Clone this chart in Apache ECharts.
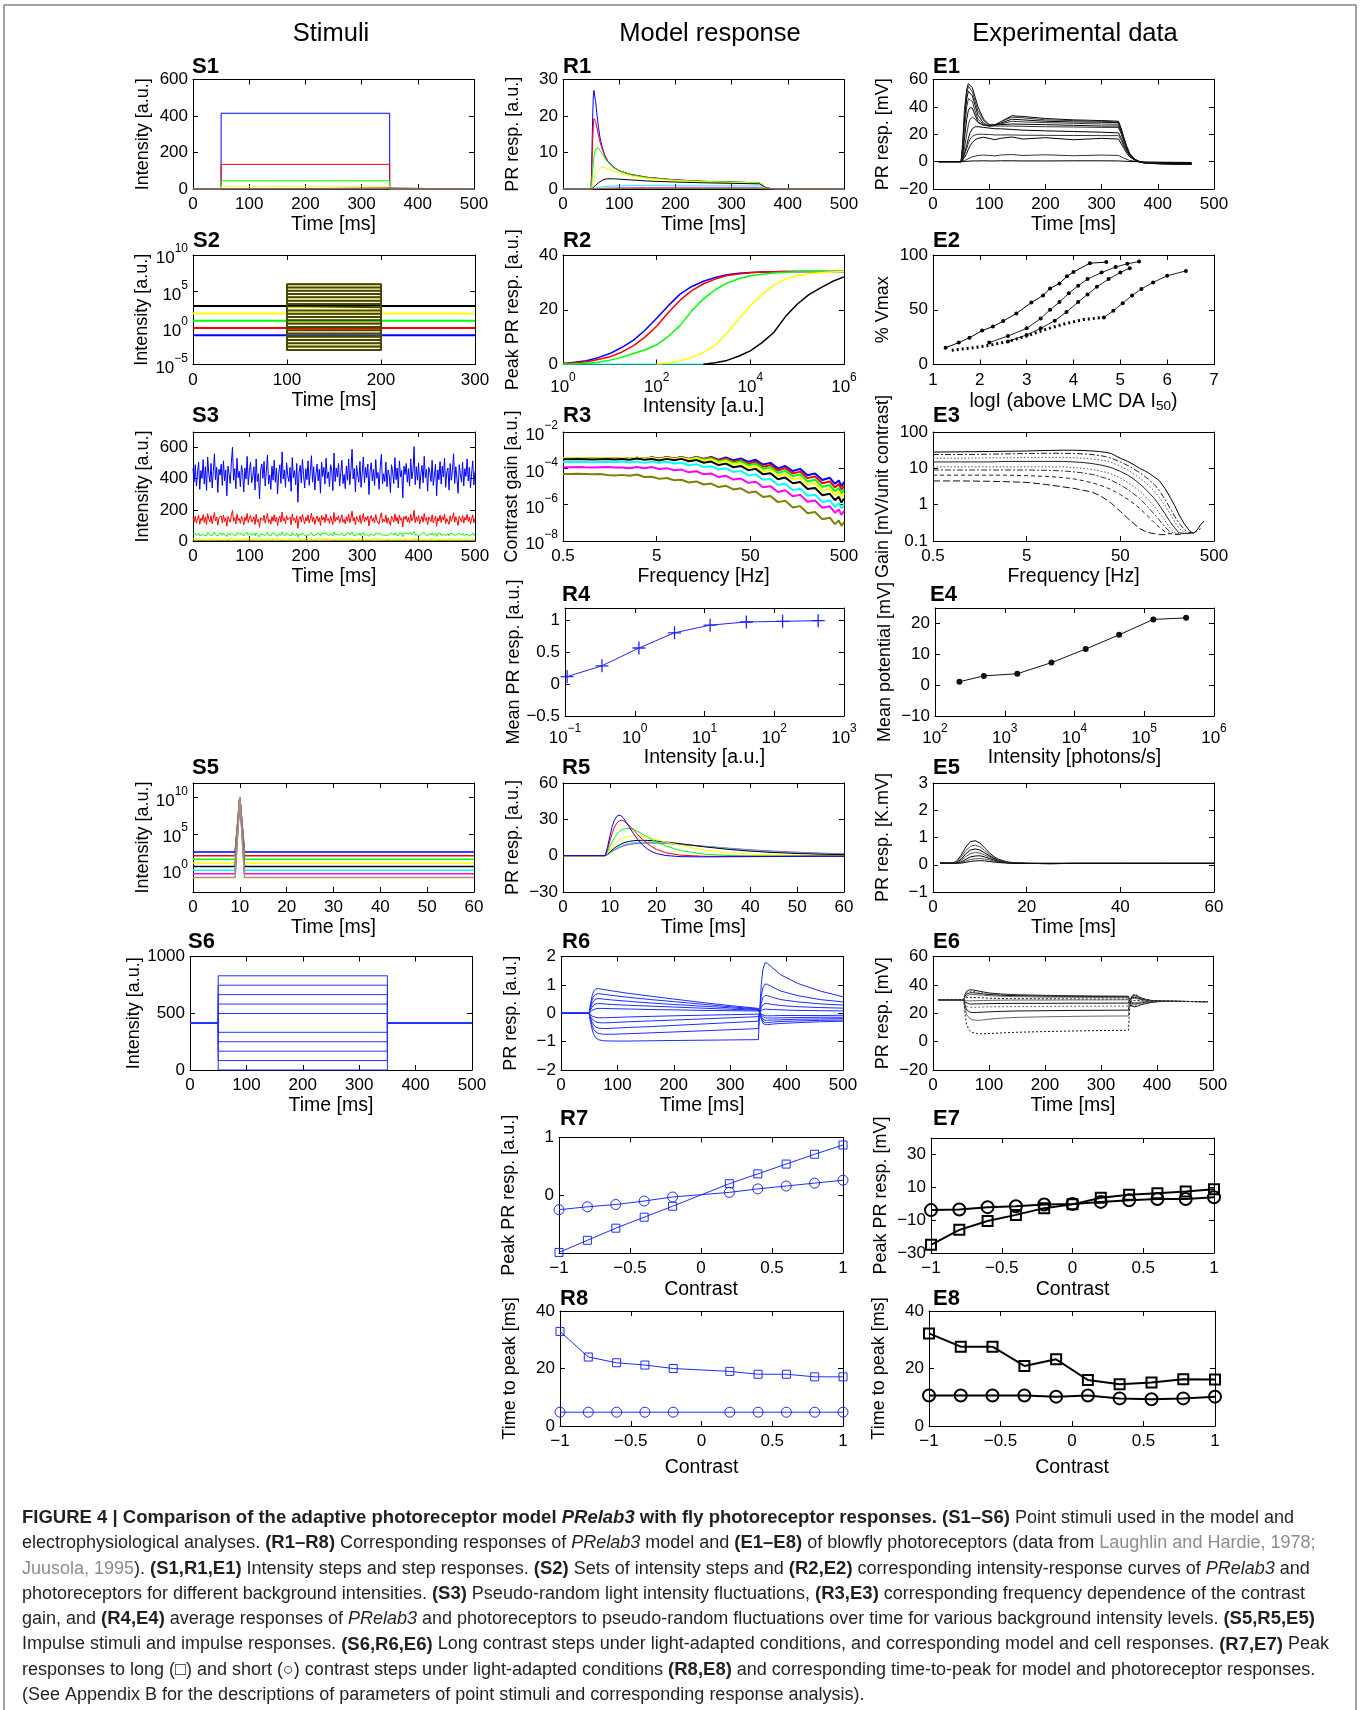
<!DOCTYPE html>
<html>
<head>
<meta charset="utf-8">
<script src="https://cdn.jsdelivr.net/npm/echarts@6/dist/echarts.min.js"></script>
<style>
  html, body { margin: 0; padding: 0; background: #fff; }
  #fig { width: 1360px; height: 1710px; }
</style>
</head>
<body>
<div id="fig"></div>
<script>
// ---------------- data ----------------
const MCOL = ['#0000ff', '#ff0000', '#00ff00', '#ffff00', '#000000', '#00ffff', '#ff00ff', '#808000'];
const KHAKI = '#a8966a';

// S1: intensity steps (50-350 ms)
const s1Time = [0, 50, 50, 350, 350, 500];
const s1Pulse = [0, 0, 1, 1, 0, 0];
const s1Levels = [415, 135, 45, 15, 5, 1.5, 0.5, 0.15];

// S2: backgrounds and test steps (log10 intensity)
const s2BgLog = [-1, 0, 1, 2, 3];
const s2StepLog = [-3, -2.55, -2.1, -1.65, -1.2, -0.75, -0.3, 0.15, 0.6, 1.05, 1.5, 1.95, 2.4, 2.85, 3.3, 3.75, 4.2, 4.65, 5.1, 5.55, 6];

// S3: pseudo-random contrast sequence (%), sampled every 2 ms, and mean intensities
const s3Dt = 2;
const s3Means = [415, 135, 42, 14, 4];
const s3Contrast = [
  12, -8, 18, -15, 5, 22, -20, 9, -3, 26, -12, 15, -22, 30, 4, -9, 20, -18, 8, 35, -5, 14, -25, 11, 2,
  19, -14, 24, -7, 10, -30, 16, 3, -11, 21, 45, -6, 12, -19, 28, -2, 8, -16, 17, 6, -24, 13, -4, 31, -13,
  9, 22, -10, 0, 15, -21, 27, -8, 4, -35, 11, 19, -3, 23, -15, 7, 33, -12, 2, -20, 16, -6, 25, -9, 13,
  -27, 5, 18, -11, 38, -4, 10, -17, 21, 1, -8, 14, -23, 29, -2, 9, -13, 20, -40, 6, 17, -10, 26, 3, -18,
  12, -5, 24, -14, 8, 32, -9, 15, -21, 4, 19, -7, 11, -26, 22, 0, 14, -12, 28, -3, 7, -16, 18, 10, -22,
  36, -8, 13, -1, 20, -15, 6, 25, -11, 3, -19, 16, -6, 27, -13, 9, 42, -4, 12, -24, 17, 2, -9, 23, -17,
  5, 30, -10, 14, -2, 19, -28, 8, 21, -7, 11, -14, 26, -3, 6, -20, 15, 34, -12, 4, -8, 22, -16, 10, 1,
  -25, 18, 7, -11, 29, -5, 13, -18, 24, -1, 9, -33, 16, 3, 20, -9, 12, -15, 27, -4, 8, 46, -13, 15, -6,
  21, -19, 4, 17, -10, 31, -2, 11, -23, 14, 6, -8, 25, -14, 2, 19, -30, 10, -5, 23, -12, 16, -1, 28, -17,
  7, 13, -21, 20, -6, 9, 35, -11, 15, -3, -26, 18, 4, -9, 22, -15, 12, 0, 27, -7, 14, -18, 5, 24, -13,
  8
];

// S5: impulse on backgrounds (log10 intensity)
const s5BgLog = [2.5, 2, 1.5, 1, 0.5, 0, -0.5, -1];
const s5PeakLog = 10;
const s5Time = [0, 9, 10, 11, 60];

// S6: contrast steps around a mean intensity
const s6Mean = 415;
const s6Contrast = [1, 0.8, 0.6, 0.4, 0.2, -0.2, -0.4, -0.6, -0.8, -1];

// R1: step responses
const r1Time = [0, 50, 51, 52, 53, 54, 55, 56, 58, 60, 63, 66, 70, 75, 80, 90, 100, 120, 150, 200, 250, 300, 350, 353, 356, 360, 365, 370, 380, 400, 500];
const r1Resp = [
  [0,0,6,14,21,25.5,27,26.5,24,21,17,14,11.3,9,7.6,6,5,4,3.2,2.5,2.1,1.9,1.7,1.3,0.9,0.5,0.25,0.12,0.04,0,0],
  [0,0,4,9,14,17.5,19.3,19.5,18.5,17,14.8,12.8,10.8,8.9,7.5,5.9,5,4,3.2,2.5,2.1,1.9,1.7,1.3,0.9,0.5,0.25,0.12,0.04,0,0],
  [0,0,1.5,3.5,5.5,7.2,8.6,9.8,11,11.5,11.3,10.6,9.5,8.3,7.3,5.8,4.9,3.9,3.1,2.4,2.1,1.9,1.7,1.3,0.9,0.5,0.25,0.12,0.04,0,0],
  [0,0,0.4,0.9,1.5,2.1,2.7,3.2,4.1,4.8,5.5,5.9,6,5.8,5.5,4.9,4.4,3.6,2.9,2.3,2,1.8,1.6,1.25,0.9,0.5,0.25,0.12,0.04,0,0],
  [0,0,0.1,0.2,0.3,0.45,0.6,0.75,1,1.3,1.7,2,2.4,2.7,2.8,2.8,2.7,2.5,2.2,1.9,1.7,1.55,1.4,1.1,0.8,0.45,0.22,0.1,0.03,0,0],
  [0,0,0,0.02,0.05,0.08,0.12,0.15,0.22,0.3,0.4,0.5,0.6,0.7,0.77,0.85,0.88,0.9,0.9,0.88,0.86,0.85,0.83,0.7,0.5,0.3,0.15,0.07,0.02,0,0],
  [0,0,0,0,0.01,0.02,0.03,0.04,0.06,0.08,0.11,0.14,0.18,0.22,0.25,0.29,0.31,0.33,0.34,0.34,0.33,0.33,0.32,0.27,0.2,0.12,0.06,0.03,0.01,0,0],
  [0,0,0,0,0,0.01,0.01,0.01,0.02,0.03,0.04,0.05,0.06,0.07,0.08,0.1,0.11,0.12,0.12,0.12,0.12,0.11,0.11,0.09,0.07,0.04,0.02,0.01,0,0,0]
];

// R2: peak response vs log10 intensity
const r2LogI = [0, 0.25, 0.5, 0.75, 1, 1.25, 1.5, 1.75, 2, 2.25, 2.5, 2.75, 3, 3.25, 3.5, 3.75, 4, 4.25, 4.5, 4.75, 5, 5.25, 5.5, 5.75, 6];
const r2Blue = [0.4,0.8,1.4,2.5,4,6.2,8.8,12.5,16.9,21.5,25.7,28.5,30.4,31.8,32.8,33.3,33.6,33.8,33.9,34,34,34,34,34,34];
const r2Red = [0.3,0.6,1.0,1.8,2.8,4.5,6.8,10,14,19,23.5,27,29.5,31.2,32.5,33.1,33.5,33.8,33.9,34,34,34,34,34,34];
const r2Green = [0.2,0.3,0.5,0.8,1.6,2.6,4,5.3,7.2,10.3,14.2,19.6,24,27.3,29.7,31.3,32.4,33,33.4,33.7,33.9,34,34,34,34];
const r2Yellow = [0.2,0.6,1.3,2.6,4.4,7,11.5,16.5,21.5,25.5,29,31.2,32.4,33.1,33.5,33.8,34];      // from 10^2
const r2Black = [0.1,0.6,1.5,3,5,8,11.7,17.5,22,25.5,28,30.3,32];                                   // from 10^3
const r2Cyan = [0.15,0.15,0.15,0.15,0.15,0.15,0.15,0.15,0.15,0.15,0.15,0.15,0.15];                   // up to 10^3

// R3: contrast gain (log10) vs frequency
const r3Freq = [0.5, 0.6, 0.72, 0.86, 1.03, 1.24, 1.49, 1.78, 2.14, 2.57, 3.08, 3.7, 4.44, 5.33, 6.4, 7.7, 9.2, 11, 13.3, 15.9, 19.1, 22.9, 27.5, 33, 39.6, 47.5, 57, 68.4, 82, 98.5, 118, 142, 170, 204, 245, 294, 353, 400, 440, 470, 500];
const r3LogGain = [
  [-3.45,-3.45,-3.45,-3.45,-3.45,-3.45,-3.45,-3.45,-3.45,-3.45,-3.45,-3.45,-3.43,-3.43,-3.43,-3.43,-3.43,-3.43,-3.43,-3.43,-3.43,-3.45,-3.47,-3.5,-3.53,-3.56,-3.62,-3.7,-3.8,-3.9,-3.98,-4.05,-4.15,-4.27,-4.4,-4.52,-4.65,-4.73,-4.8,-4.85,-4.88],
  [-3.45,-3.45,-3.45,-3.45,-3.45,-3.45,-3.45,-3.45,-3.45,-3.45,-3.45,-3.45,-3.44,-3.44,-3.44,-3.44,-3.44,-3.44,-3.44,-3.44,-3.46,-3.5,-3.53,-3.57,-3.61,-3.66,-3.73,-3.82,-3.92,-4.02,-4.1,-4.18,-4.3,-4.43,-4.57,-4.7,-4.85,-4.93,-5.0,-5.05,-5.08],
  [-3.46,-3.46,-3.46,-3.46,-3.46,-3.46,-3.46,-3.46,-3.46,-3.46,-3.46,-3.46,-3.46,-3.46,-3.46,-3.46,-3.46,-3.46,-3.46,-3.48,-3.51,-3.55,-3.59,-3.64,-3.69,-3.75,-3.83,-3.93,-4.04,-4.15,-4.25,-4.33,-4.46,-4.6,-4.75,-4.89,-5.05,-5.14,-5.21,-5.26,-5.29],
  [-3.45,-3.45,-3.45,-3.45,-3.45,-3.45,-3.45,-3.45,-3.45,-3.45,-3.45,-3.45,-3.47,-3.47,-3.47,-3.47,-3.47,-3.47,-3.5,-3.53,-3.57,-3.62,-3.67,-3.73,-3.8,-3.87,-3.96,-4.07,-4.19,-4.31,-4.42,-4.51,-4.65,-4.8,-4.96,-5.11,-5.27,-5.36,-5.43,-5.47,-5.5],
  [-3.5,-3.5,-3.5,-3.5,-3.5,-3.5,-3.5,-3.5,-3.5,-3.5,-3.5,-3.5,-3.53,-3.53,-3.53,-3.53,-3.53,-3.56,-3.6,-3.64,-3.69,-3.75,-3.81,-3.88,-3.95,-4.02,-4.12,-4.24,-4.37,-4.5,-4.62,-4.72,-4.87,-5.03,-5.2,-5.36,-5.53,-5.63,-5.7,-5.75,-5.78],
  [-3.65,-3.65,-3.65,-3.65,-3.65,-3.65,-3.65,-3.65,-3.65,-3.65,-3.67,-3.67,-3.67,-3.67,-3.67,-3.7,-3.74,-3.78,-3.83,-3.88,-3.94,-4.0,-4.07,-4.14,-4.22,-4.31,-4.42,-4.54,-4.68,-4.82,-4.95,-5.1,-5.24,-5.4,-5.57,-5.73,-5.9,-6.0,-6.05,-6.08,-6.1],
  [-3.94,-3.94,-3.94,-3.94,-3.94,-3.94,-3.94,-3.94,-3.97,-3.97,-3.97,-3.97,-3.97,-4.0,-4.04,-4.08,-4.12,-4.17,-4.22,-4.28,-4.34,-4.41,-4.48,-4.56,-4.64,-4.72,-4.83,-4.95,-5.08,-5.2,-5.32,-5.44,-5.58,-5.73,-5.89,-6.05,-6.22,-6.32,-6.39,-6.43,-6.45],
  [-4.31,-4.31,-4.31,-4.31,-4.31,-4.31,-4.38,-4.38,-4.38,-4.38,-4.38,-4.45,-4.5,-4.54,-4.58,-4.63,-4.68,-4.73,-4.78,-4.84,-4.9,-4.96,-5.03,-5.1,-5.18,-5.26,-5.37,-5.49,-5.62,-5.76,-5.9,-6.05,-6.2,-6.36,-6.52,-6.68,-6.85,-6.95,-7.0,-7.04,-7.06]
];
const r3Ripple = [0,0,0.01,0,-0.01,0,0.01,-0.02,0.02,-0.03,0.04,-0.03,0.04,-0.04,0.05,-0.03,0.05,-0.05,0.06,-0.05,0.06,-0.07,0.07,-0.06,0.08,-0.08,0.09,-0.09,0.1,-0.1,0.11,-0.1,0.12,-0.11,0.12,-0.12,0.13,-0.12,0.13,-0.13,0.12];

// R4: mean response vs log10 intensity
const r4LogI = [-0.97, -0.47, 0.06, 0.57, 1.08, 1.6, 2.12, 2.63];
const r4Mean = [0.12, 0.29, 0.57, 0.81, 0.93, 0.98, 0.99, 1.0];

// R5: impulse responses
const r5Time = [0, 9, 9.5, 10, 10.5, 11, 11.5, 12, 12.5, 13, 14, 15, 16, 17, 18, 19, 20, 22, 25, 30, 35, 40, 45, 50, 55, 60];
const r5Resp = [
  [0,0,7,16,24,29.5,32.5,33.5,32.8,30.5,24.5,18.5,13.2,8.8,5.6,3.2,1.7,0.1,-0.8,-1,-0.9,-0.8,-0.7,-0.6,-0.5,-0.5],
  [0,0,5,12,18.5,23.5,27,28.8,29.2,28.6,25.5,21.5,17.2,13.3,10,7.3,5.2,2.4,0.4,-0.5,-0.6,-0.5,-0.5,-0.4,-0.4,-0.4],
  [0,0,3,7.5,11.5,15,17.8,19.8,21.2,22.1,22.6,21.8,20,17.8,15.4,13.2,11.2,7.9,4.3,1.3,0.2,-0.2,-0.3,-0.3,-0.3,-0.3],
  [0,0,1.8,4.5,7,9.3,11.2,12.8,14,14.9,16,16.5,16.4,15.9,15.1,14.2,13.2,11.2,8.4,4.7,2.5,1.3,0.6,0.3,0.1,0],
  [0,0,1.2,3,4.8,6.3,7.7,8.8,9.8,10.6,11.7,12.3,12.6,12.7,12.6,12.4,12.1,11.3,9.9,7.4,5.3,3.7,2.6,1.8,1.2,0.8],
  [0,0,1,2.5,4,5.3,6.5,7.5,8.3,9,10,10.6,11,11.2,11.3,11.2,11,10.5,9.5,7.6,5.8,4.3,3.1,2.2,1.6,1.1],
  [0,0,0.9,2.3,3.7,4.9,6,7,7.8,8.5,9.5,10.1,10.5,10.7,10.8,10.8,10.7,10.3,9.5,7.8,6.1,4.7,3.5,2.6,1.9,1.4],
  [0,0,0.8,2.1,3.4,4.5,5.5,6.5,7.3,8,9,9.6,10,10.2,10.3,10.3,10.2,9.9,9.2,7.8,6.3,4.9,3.8,2.9,2.2,1.6]
];

// R6: responses to long contrast steps (one row per contrast, +1 ... -1)
const r6Time = [0, 50, 52, 55, 58, 62, 66, 75, 90, 120, 160, 200, 250, 300, 350, 352, 355, 358, 362, 366, 375, 390, 420, 460, 500];
const r6Resp = [
  [0,0,0.3,0.6,0.78,0.86,0.87,0.84,0.79,0.7,0.6,0.5,0.38,0.27,0.17,0.05,-0.2,-0.35,-0.4,-0.4,-0.38,-0.36,-0.33,-0.3,-0.28],
  [0,0,0.22,0.46,0.6,0.67,0.69,0.67,0.63,0.56,0.48,0.41,0.32,0.23,0.15,0.05,-0.16,-0.28,-0.33,-0.33,-0.31,-0.29,-0.27,-0.25,-0.24],
  [0,0,0.15,0.33,0.44,0.5,0.52,0.5,0.47,0.42,0.36,0.31,0.25,0.19,0.13,0.05,-0.12,-0.21,-0.25,-0.25,-0.24,-0.23,-0.21,-0.2,-0.19],
  [0,0,0.1,0.21,0.29,0.33,0.34,0.33,0.31,0.28,0.25,0.22,0.18,0.14,0.11,0.05,-0.07,-0.14,-0.17,-0.17,-0.17,-0.16,-0.15,-0.14,-0.14],
  [0,0,0.05,0.1,0.14,0.16,0.17,0.17,0.16,0.15,0.13,0.12,0.1,0.09,0.08,0.04,-0.03,-0.07,-0.09,-0.09,-0.09,-0.08,-0.08,-0.08,-0.07],
  [0,0,-0.05,-0.1,-0.13,-0.15,-0.16,-0.16,-0.15,-0.13,-0.11,-0.09,-0.07,-0.05,-0.03,0.02,0.1,0.14,0.15,0.14,0.13,0.12,0.1,0.09,0.08],
  [0,0,-0.1,-0.2,-0.27,-0.31,-0.33,-0.34,-0.33,-0.3,-0.27,-0.24,-0.2,-0.16,-0.12,0,0.2,0.3,0.35,0.34,0.31,0.27,0.23,0.2,0.18],
  [0,0,-0.15,-0.3,-0.42,-0.49,-0.52,-0.54,-0.53,-0.5,-0.47,-0.43,-0.38,-0.33,-0.28,0,0.35,0.55,0.63,0.62,0.56,0.48,0.4,0.33,0.29],
  [0,0,-0.2,-0.42,-0.57,-0.66,-0.71,-0.74,-0.74,-0.72,-0.69,-0.66,-0.62,-0.58,-0.54,0,0.6,0.9,1.03,1.02,0.92,0.78,0.62,0.48,0.4],
  [0,0,-0.26,-0.55,-0.75,-0.87,-0.93,-0.97,-0.98,-0.98,-0.97,-0.96,-0.95,-0.94,-0.93,0,1.0,1.55,1.78,1.76,1.6,1.35,1.05,0.78,0.58]
];

// R7 / R8: peak response and time to peak vs contrast
const r7Contrast = [-1, -0.8, -0.6, -0.4, -0.2, 0.2, 0.4, 0.6, 0.8, 1];
const r7Long = [-0.99, -0.78, -0.57, -0.38, -0.19, 0.2, 0.37, 0.54, 0.71, 0.87];
const r7Short = [-0.25, -0.2, -0.16, -0.1, -0.03, 0.05, 0.11, 0.16, 0.21, 0.26];
const r8Long = [32.9, 24, 22, 21.2, 20, 19, 18, 18, 17.1, 17.1];
const r8Short = [4.8, 4.8, 4.8, 4.8, 4.8, 4.8, 4.8, 4.8, 4.8, 4.8];

// E1: recorded step responses (mV)
const e1Time = [10, 50, 53, 56, 60, 63, 66, 70, 75, 80, 90, 100, 110, 120, 140, 160, 200, 250, 300, 330, 335, 340, 345, 350, 360, 370, 380, 400, 430, 460];
const e1Resp = [
  [0,0,15,38,53,57,56.5,54,47,40,31,27,26.5,29,33.5,33,31.5,30.5,30,29.5,24,17,11,6,1.5,-0.5,-1.2,-1.5,-1.8,-2],
  [0,0,12,33,50,55,54.5,51,44,37,30,26.5,27,29,32.5,32,30.5,30,29.5,29,23.5,16.5,10.5,5.8,1.5,-0.5,-1.2,-1.5,-1.8,-2],
  [0,0,10,29,46,51.5,52,48,41,34,28,26,26.5,28,31,30.5,29.5,29,28.8,28.5,23,16,10,5.5,1.3,-0.5,-1.2,-1.5,-1.8,-2],
  [0,0,8,24,40,46,47,44,37,31,27,26,26.5,27.5,29.5,29,28.5,28,27.5,27.3,22,15.5,10,5.3,1.3,-0.5,-1,-1.3,-1.5,-1.8],
  [0,0,5,17,31,37.5,39.5,39,34,29,26.5,26.5,27,27,27.5,27.3,27,26.5,26,26,21,15,9.5,5,1.2,-0.5,-1,-1.3,-1.5,-1.8],
  [0,0,3,10,20,27,31,32.5,31,28.5,26.5,26,26,26,26,25.8,25.5,25.3,25,25,20,14,9,5,1.2,-0.4,-1,-1.2,-1.4,-1.6],
  [0,0,2,6,12,17,21,24,25.5,25.5,25,24.5,24,24,23.5,23,22.5,22,21.5,21,17,12,8,4.5,1,-0.4,-0.9,-1.1,-1.3,-1.5],
  [0,0,1.5,5,9.5,13.5,16.5,18.5,19.5,20,20,19.8,19.5,19.5,19.5,19.3,19.2,19.1,19,19,15.5,11,7.5,4,1,-0.3,-0.8,-1,-1.2,-1.4],
  [0,0,1,3,6,9,11.5,14,16,17,17.8,17,16,17,18,16.5,17.5,16,17,16.5,13,9.5,6,3.5,0.8,-0.3,-0.8,-1,-1.2,-1.3],
  [0,0,0.3,0.8,1.5,2.2,2.8,3.5,4,4.5,4.8,4.5,4.2,4.8,5.2,4.5,5,4.3,4.8,4.5,3.5,2.5,1.6,0.9,0.2,-0.2,-0.5,-0.6,-0.7,-0.8],
  [0,0,0,0.1,0.2,0.3,0.4,0.5,0.5,0.5,0.6,0.5,0.5,0.6,0.6,0.5,0.5,0.6,0.6,0.5,0.4,0.3,0.2,0.1,0,-0.2,-0.3,-0.4,-0.5,-0.6]
];

// E2: % Vmax vs log intensity
const e2CurveA = [[1.27,15.3],[1.55,20],[1.78,24.5],[2.05,31],[2.28,34.6],[2.5,39.7],[2.78,46.6],[3.1,56.6],[3.35,63],[3.5,69.5],[3.7,74],[3.86,80.5],[4.0,84.5],[4.35,92.5],[4.7,93.5]];
const e2CurveB = [[2.2,20],[2.6,26],[3.0,33],[3.3,42],[3.5,50],[3.7,57],[3.9,65],[4.1,72],[4.3,78],[4.6,84],[4.9,89],[5.15,92],[5.4,94]];
const e2CurveC = [[2.6,21],[3.0,27],[3.3,33],[3.6,40],[3.85,48],[4.1,57],[4.3,64],[4.5,71],[4.75,78],[5.0,84],[5.2,88]];
const e2Dark = [[1.4,13],[1.8,15],[2.2,17.5],[2.6,21],[3.0,26],[3.4,32],[3.8,37],[4.2,41],[4.65,43]];
const e2CurveD = [[4.65,43],[4.85,49],[5.05,56],[5.25,63],[5.45,69],[5.7,75],[6.0,81],[6.4,85.5]];

// E3: gain vs frequency (mV/unit contrast)
const e3Freq = [0.5, 1, 2, 3, 5, 8, 12, 16, 20, 25, 30, 35, 40, 50, 60, 70, 80, 90, 100, 115, 130, 150, 170, 190, 210, 240, 270, 300, 330, 360, 390];
const e3Gain = [
  [28,28.5,29,29.5,30,31,31.5,31.5,31,30,29,27.5,25.5,19,15.5,12.5,10,8.7,7.5,5.8,4.6,2.8,1.6,0.95,0.55,0.3,0.2,0.16,0.2,0.28,0.35],
  [24,24,24.5,25,25.5,26,26,25.5,25,24,22.5,21,19,15,12,9.5,7.7,6.2,5,3.6,2.5,1.4,0.8,0.48,0.32,0.21,0.17,0.17,0.19,0.22,'-'],
  [19,19,19.5,19.5,20,20,20,19.5,19,18,17,16,14.5,11.5,9,7,5.5,4.3,3.4,2.4,1.6,0.95,0.55,0.34,0.23,0.17,0.16,0.17,0.18,'-','-'],
  [15,15,15,15.5,15.5,15.5,15.5,15,14.5,13.5,12.5,11.5,10.5,8.3,6.5,5,3.8,2.9,2.2,1.5,0.98,0.56,0.34,0.23,0.17,0.16,0.16,0.17,'-','-','-'],
  [11,11,11,11,11,11,11,10.5,10,9.3,8.5,7.8,7,5.4,4.1,3.1,2.4,1.8,1.35,0.9,0.6,0.36,0.23,0.17,0.16,0.16,0.17,'-','-','-','-'],
  [9,9,9,9,9,8.8,8.5,8,7.5,6.8,6,5.3,4.7,3.5,2.6,1.95,1.5,1.1,0.82,0.55,0.38,0.24,0.18,0.16,0.15,0.16,'-','-','-','-','-'],
  [6.5,6.5,6.5,6.5,6.3,6,5.6,5.1,4.6,4,3.5,3,2.6,1.9,1.4,1.05,0.8,0.6,0.46,0.32,0.24,0.18,0.16,0.15,0.15,'-','-','-','-','-','-'],
  [4.5,4.5,4.4,4.3,4.1,3.6,3.1,2.8,2.5,2.2,1.8,1.4,1.1,0.65,0.42,0.3,0.22,0.19,0.17,0.16,0.15,0.15,0.16,'-','-','-','-','-','-','-','-']
];

// E4: mean potential vs log10 intensity (photons/s)
const e4LogI = [2.35, 2.7, 3.18, 3.67, 4.16, 4.64, 5.13, 5.6];
const e4Mean = [1.1, 3.0, 3.7, 7.3, 11.7, 16.3, 21.3, 21.8];

// E5: recorded impulse responses (K.mV)
const e5Time = [1.5, 4, 5, 6, 7, 8, 9, 10, 11, 12, 13, 14, 16, 18, 20, 25, 30, 40, 50, 60];
const e5Resp = [
  [0.06,0.06,0.12,0.35,0.65,0.85,0.88,0.8,0.62,0.45,0.3,0.2,0.1,0.07,0.05,0.04,0.05,0.05,0.05,0.05],
  [0.06,0.06,0.1,0.27,0.52,0.68,0.72,0.66,0.52,0.38,0.26,0.17,0.09,0.06,0.05,0.04,0.05,0.05,0.05,0.05],
  [0.06,0.06,0.08,0.2,0.4,0.54,0.58,0.54,0.44,0.33,0.23,0.15,0.08,0.06,0.05,0.04,0.05,0.05,0.05,0.05],
  [0.06,0.06,0.07,0.15,0.3,0.41,0.45,0.43,0.36,0.28,0.2,0.14,0.08,0.06,0.05,0.05,0.05,0.05,0.05,0.05],
  [0.06,0.06,0.06,0.1,0.2,0.29,0.32,0.33,0.29,0.23,0.17,0.12,0.07,0.06,0.05,0.05,0.05,0.05,0.05,0.05],
  [0.06,0.06,0.06,0.08,0.14,0.19,0.22,0.23,0.21,0.18,0.14,0.1,0.07,0.06,0.05,0.05,0.05,0.05,0.05,0.05],
  [0.06,0.06,0.06,0.06,0.09,0.12,0.14,0.15,0.14,0.12,0.1,0.08,0.06,0.05,0.05,0.05,0.05,0.05,0.05,0.05]
];

// E6: recorded responses to long contrast steps (mV)
const e6Time = [10, 55, 57, 60, 65, 70, 80, 90, 100, 120, 150, 200, 250, 300, 349, 351, 355, 360, 365, 370, 380, 390, 400, 420, 450, 490];
const e6Resp = [
  [29.5,29.5,33,35.5,36.5,36.5,35.8,35,34.3,33.6,33,32.6,32.3,32.1,32,28,25,24.5,25,25.8,26.8,27.6,28.1,28.4,28.3,28.2],
  [29.5,29.5,32.5,34.5,35.5,35.5,35,34.4,33.8,33.2,32.7,32.3,32.1,31.9,31.8,28.5,25.8,25.5,26,26.5,27.3,27.9,28.2,28.4,28.3,28.2],
  [29.5,29.5,32,33.5,34.3,34.5,34.1,33.6,33.2,32.7,32.3,32,31.8,31.6,31.5,29,26.8,26.5,26.8,27.2,27.8,28.1,28.3,28.4,28.3,28.2],
  [29.5,29.5,31.3,32.5,33.2,33.3,33,32.7,32.4,32,31.7,31.4,31.3,31.1,31,29.2,27.6,27.4,27.6,27.9,28.2,28.4,28.4,28.4,28.3,28.2],
  [29.5,29.5,30.5,31,31.2,31.2,31,30.8,30.6,30.4,30.3,30.2,30.1,30,30,29.5,29,29,29,29,28.8,28.6,28.5,28.4,28.3,28.2],
  [29.5,29.5,29,28.8,28.7,28.8,28.9,29,29.1,29.2,29.3,29.3,29.4,29.4,29.5,30,30.5,30.5,30.2,29.8,29.2,28.8,28.6,28.4,28.3,28.2],
  [29.5,29.5,28,27,26.5,26.5,26.6,26.7,26.8,26.9,27,27,27.1,27.1,27.2,29.5,31,31.2,30.8,30.2,29.4,28.9,28.6,28.4,28.3,28.2],
  [29.5,29.5,27,25,24.3,24.2,24.3,24.4,24.5,24.6,24.7,24.8,24.9,25,25,28.5,31.5,31.8,31.2,30.5,29.5,28.9,28.6,28.4,28.3,28.2],
  [29.5,29.5,26,22.5,21,20.5,20.6,20.8,21,21.3,21.6,21.8,22,22.1,22.2,27.5,32,32.5,31.8,30.8,29.6,29,28.6,28.4,28.3,28.2],
  [29.5,29.5,24,19,16.5,15.5,15,15.3,15.8,16.5,17.1,17.5,17.8,18,18.1,26,32,33,32,31,29.7,29,28.6,28.4,28.3,28.2],
  [29.5,29.5,20,12,8,6.5,5.6,5.5,5.7,6.1,6.6,7.1,7.5,7.8,8,22,32,33.5,32.5,31.2,29.8,29,28.6,28.4,28.3,28.2]
];

// E7 / E8: recorded peak response and time to peak vs contrast
const e7Contrast = [-1, -0.8, -0.6, -0.4, -0.2, 0, 0.2, 0.4, 0.6, 0.8, 1];
const e7Long = [-25, -15.9, -10.5, -6.8, -2.7, -0.4, 3.6, 5.4, 6.4, 7.4, 8.8];
const e7Short = [-3.9, -3.5, -2.1, -1.5, -0.5, -0.1, 1.1, 2.1, 2.9, 2.9, 3.9];
const e8Contrast = [-1, -0.778, -0.556, -0.333, -0.111, 0.111, 0.333, 0.556, 0.778, 1];
const e8Long = [32.2, 27.6, 27.6, 20.9, 23.2, 16.0, 14.5, 15.1, 16.3, 16.2];
const e8Short = [10.6, 10.6, 10.6, 10.6, 10.2, 10.6, 9.6, 9.3, 9.6, 10.2];

// ---------------- helpers ----------------
const FONT = '"Liberation Sans", Arial, Helvetica, sans-serif';
const option = {
  animation: false,
  backgroundColor: '#fff',
  textStyle: { fontFamily: FONT },
  grid: [], xAxis: [], yAxis: [], series: [], graphic: []
};

const MINUS = '\u2212';
function fmtNum(v) {
  const r = Math.round(v * 1e6) / 1e6;
  return r < 0 ? MINUS + (-r) : String(r);
}
// log axes are linear axes over log10 values; labels written as powers of ten
function powLabel(e) {
  const n = Math.round(e);
  return '{b|10}{s|' + (n < 0 ? MINUS + (-n) : n) + '}';
}
const supRich = {
  b: { fontSize: 17, fontFamily: FONT, color: '#000', lineHeight: 24, verticalAlign: 'bottom' },
  s: { fontSize: 12, fontFamily: FONT, color: '#000', lineHeight: 13, verticalAlign: 'top' }
};
// frequency axes: coordinate is log10(f / 0.5)
function freqLabel(u) { return fmtNum(0.5 * Math.pow(10, Math.round(u))); }
function gainLabel(e) { return fmtNum(Math.pow(10, Math.round(e))); }

function makeAxis(a, gi, pos, main) {
  const isY = pos === 'left' || pos === 'right';
  const cfg = {
    type: 'value', gridIndex: gi, position: pos, min: a.min, max: a.max,
    splitLine: { show: false },
    axisLine: { show: true, onZero: false, lineStyle: { color: '#000', width: 1 } },
    axisTick: { show: true, inside: true, length: 5, lineStyle: { color: '#000', width: 1 } },
    axisLabel: { show: main, margin: isY ? 5 : 7, fontSize: 17, color: '#000', fontFamily: FONT },
    axisPointer: { show: false }
  };
  if (a.interval != null) cfg.interval = a.interval;
  if (a.ticks) { cfg.axisTick.customValues = a.ticks; cfg.axisLabel.customValues = a.ticks; }
  const keep = a.labels || null;
  const lf = a.fmt || fmtNum;
  cfg.axisLabel.formatter = function (v) {
    if (keep) { if (!keep.some(k => Math.abs(k - v) < 1e-6)) return ''; }
    else if (a.interval && Math.abs(v / a.interval - Math.round(v / a.interval)) > 1e-6) return '';
    return lf(v);
  };
  if (a.rich) cfg.axisLabel.rich = a.rich;
  if (main && a.name) {
    cfg.name = a.name;
    cfg.nameLocation = 'middle';
    cfg.nameGap = a.gap != null ? a.gap : (isY ? 41 : 26);
    cfg.nameTextStyle = { fontSize: isY ? 18 : 19.5, color: '#000', fontFamily: FONT };
    if (a.nameRich) { cfg.nameTextStyle.rich = a.nameRich; cfg.nameTextStyle.lineHeight = 24; }
    if (isY) cfg.nameRotate = 90;
  }
  return cfg;
}

function panel(box, xa, ya) {
  const gi = option.grid.length;
  option.grid.push({ left: box[0], top: box[1], width: box[2] - box[0], height: box[3] - box[1], containLabel: false });
  const xi = option.xAxis.length;
  option.xAxis.push(makeAxis(xa, gi, 'bottom', true), makeAxis(xa, gi, 'top', false));
  const yi = option.yAxis.length;
  option.yAxis.push(makeAxis(ya, gi, 'left', true), makeAxis(ya, gi, 'right', false));
  return { xi: xi, yi: yi };
}

function line(p, data, color, o) {
  o = o || {};
  const s = {
    type: 'line', xAxisIndex: p.xi, yAxisIndex: p.yi, data: data,
    symbol: 'none', showSymbol: false, silent: true, animation: false, clip: true,
    connectNulls: false,
    lineStyle: { color: color, width: o.width || 1, type: o.type || 'solid', opacity: o.opacity != null ? o.opacity : 1 },
    itemStyle: { color: color },
    z: o.z || 2
  };
  if (o.symbol) {
    s.symbol = o.symbol; s.showSymbol = true; s.symbolSize = o.symbolSize;
    s.itemStyle = o.itemStyle || { color: color };
  }
  option.series.push(s);
}
const zip = (xs, ys) => xs.map((x, i) => [x, ys[i]]);
const lg = v => (v === '-' ? '-' : Math.log10(v));

const TIME = (max, interval) => ({ min: 0, max: max, interval: interval, name: 'Time [ms]' });
const LOGY = { fmt: powLabel, rich: supRich };

// ---------------- panels ----------------
const S1 = panel([193, 79.5, 474, 189], TIME(500, 100), { min: 0, max: 600, interval: 200, name: 'Intensity [a.u.]' });
const S2 = panel([193, 255, 475, 364.5], TIME(300, 100), Object.assign({ min: -5, max: 10, interval: 5, name: 'Intensity [a.u.]' }, LOGY));
const S3 = panel([193, 432, 475, 541], TIME(500, 100), { min: 0, max: 700, interval: 200, name: 'Intensity [a.u.]' });
const S5 = panel([193, 783, 474, 892], TIME(60, 10), Object.assign({ min: -3, max: 12, ticks: [0, 5, 10], labels: [0, 5, 10], name: 'Intensity [a.u.]' }, LOGY));
const S6 = panel([190, 956.5, 472, 1070], TIME(500, 100), { min: 0, max: 1000, interval: 500, name: 'Intensity [a.u.]' });

const R1 = panel([563, 79.5, 844, 189], TIME(500, 100), { min: 0, max: 30, interval: 10, name: 'PR resp. [a.u.]' });
const R2 = panel([563, 255, 844, 364.5], Object.assign({ min: 0, max: 6, interval: 2, name: 'Intensity [a.u.]' }, LOGY), { min: 0, max: 40, interval: 20, name: 'Peak PR resp. [a.u.]' });
const R3 = panel([563, 432, 844, 541], { min: 0, max: 3, interval: 1, fmt: freqLabel, name: 'Frequency [Hz]' }, Object.assign({ min: -8, max: -2, interval: 2, name: 'Contrast gain [a.u.]' }, LOGY));
const R4 = panel([565, 608, 844, 716], Object.assign({ min: -1, max: 3, interval: 1, name: 'Intensity [a.u.]', gap: 32 }, LOGY), { min: -0.5, max: 1.2, interval: 0.5, name: 'Mean PR resp. [a.u.]' });
const R5 = panel([563, 783, 844, 892], TIME(60, 10), { min: -30, max: 60, interval: 30, name: 'PR resp. [a.u.]' });
const R6 = panel([561, 956.5, 843, 1070], TIME(500, 100), { min: -2, max: 2, interval: 1, name: 'PR resp. [a.u.]' });
const R7 = panel([559, 1137.5, 843, 1253], { min: -1, max: 1, interval: 0.5, name: 'Contrast', gap: 27 }, { min: -1, max: 1, interval: 1, labels: [0, 1], name: 'Peak PR resp. [a.u.]' });
const R8 = panel([560, 1311, 843, 1426], { min: -1, max: 1, interval: 0.5, name: 'Contrast', gap: 32 }, { min: 0, max: 40, interval: 20, name: 'Time to peak [ms]' });

const E1 = panel([933, 79.5, 1214, 189], TIME(500, 100), { min: -20, max: 60, interval: 20, name: 'PR resp. [mV]' });
const E2 = panel([933, 255, 1214, 364.5],
  { min: 1, max: 7, interval: 1, name: 'logI (above LMC DA I{sub|50})', gap: 24,
    nameRich: { sub: { fontSize: 13.5, fontFamily: FONT, color: '#000', lineHeight: 24, verticalAlign: 'bottom' } } },
  { min: 0, max: 100, interval: 50, name: '% Vmax' });
const E3 = panel([933, 432, 1214, 541], { min: 0, max: 3, interval: 1, fmt: freqLabel, name: 'Frequency [Hz]' }, { min: -1, max: 2, interval: 1, fmt: gainLabel, name: 'Gain [mV/unit contrast]' });
const E4 = panel([935, 608, 1214, 716], Object.assign({ min: 2, max: 6, interval: 1, name: 'Intensity [photons/s]', gap: 32 }, LOGY), { min: -10, max: 25, interval: 10, name: 'Mean potential [mV]' });
const E5 = panel([933, 783, 1214, 892], TIME(60, 20), { min: -1, max: 3, interval: 1, name: 'PR resp. [K.mV]' });
const E6 = panel([933, 956.5, 1213, 1070], TIME(500, 100), { min: -20, max: 60, interval: 20, name: 'PR resp. [mV]' });
const E7 = panel([931, 1138, 1214, 1253], { min: -1, max: 1, interval: 0.5, name: 'Contrast', gap: 27 }, { min: -30, max: 40, ticks: [-30, -10, 10, 30], labels: [-30, -10, 10, 30], name: 'Peak PR resp. [mV]' });
const E8 = panel([929, 1311, 1215, 1426], { min: -1, max: 1, interval: 0.5, name: 'Contrast', gap: 32 }, { min: 0, max: 40, interval: 20, name: 'Time to peak [ms]' });

// ---------------- series ----------------
// S1
s1Levels.forEach((lev, k) => line(S1, zip(s1Time, s1Pulse.map(f => f * lev)), MCOL[k]));

// S2: background lines, then the test steps of each background
s2BgLog.forEach((bg, k) => line(S2, [[0, bg], [300, bg]], MCOL[k], { width: 2 }));
s2BgLog.forEach((bg, k) => {
  const d = [];
  s2StepLog.forEach(s => { d.push([100, bg], [100, s], [200, s], [200, bg], [200, '-']); });
  // the last two sets overlap; the black set is drawn semi-opaque over the yellow one
  line(S2, d, MCOL[k], { width: k >= 3 ? 2 : 1.2, opacity: k === 4 ? 0.72 : 1 });
});

// S3
s3Means.forEach((m, k) => {
  const col = [MCOL[0], MCOL[1], MCOL[2], MCOL[3], MCOL[7]][k];
  line(S3, s3Contrast.map((c, i) => [i * s3Dt, m * (1 + c / 100)]), col);
});

// S5
const s5Cols = [MCOL[0], MCOL[1], MCOL[2], MCOL[3], MCOL[4], MCOL[5], MCOL[6], KHAKI];
s5BgLog.forEach((bg, k) => line(S5, [[s5Time[0], bg], [s5Time[1], bg], [s5Time[2], s5PeakLog], [s5Time[3], bg], [s5Time[4], bg]], s5Cols[k], { width: 1.5 }));

// S6
s6Contrast.forEach(c => {
  const lev = s6Mean * (1 + c);
  line(S6, [[0, s6Mean], [50, s6Mean], [50, lev], [350, lev], [350, s6Mean], [500, s6Mean]], '#2233ff');
});

// R1
r1Resp.forEach((r, k) => line(R1, zip(r1Time, r), MCOL[k]));

// R2
line(R2, zip(r2LogI.slice(0, r2Cyan.length), r2Cyan), MCOL[5]);
line(R2, zip(r2LogI, r2Blue), MCOL[0], { width: 1.5 });
line(R2, zip(r2LogI, r2Red), MCOL[1], { width: 1.5 });
line(R2, zip(r2LogI, r2Green), MCOL[2], { width: 1.5 });
line(R2, zip(r2LogI.slice(8), r2Yellow), MCOL[3], { width: 1.5 });
line(R2, zip(r2LogI.slice(12), r2Black), MCOL[4], { width: 1.5 });

// R3
r3LogGain.forEach((g, k) => {
  line(R3, r3Freq.map((f, i) => [Math.log10(f / 0.5), g[i] + r3Ripple[i]]), MCOL[k], { width: 2 });
});

// R4
line(R4, zip(r4LogI, r4Mean), '#2222ff', { symbol: 'path://M0,45H100V55H0Z M45,0H55V100H45Z', symbolSize: 13, itemStyle: { color: '#2222ff' } });

// R5
const r5Cols = [MCOL[0], MCOL[1], MCOL[2], MCOL[3], MCOL[4], MCOL[5], MCOL[6], KHAKI];
r5Resp.slice().reverse().forEach((r, j) => {
  const k = r5Resp.length - 1 - j;
  line(R5, zip(r5Time, r), r5Cols[k]);
});

// R6
r6Resp.forEach(r => line(R6, zip(r6Time, r), '#1a2cff'));

// R7 / R8
const blueHollow = { color: 'rgba(255,255,255,0)', borderColor: '#1a2cff', borderWidth: 1 };
line(R7, zip(r7Contrast, r7Long), '#1a2cff', { symbol: 'rect', symbolSize: 8, itemStyle: blueHollow });
line(R7, zip(r7Contrast, r7Short), '#1a2cff', { symbol: 'circle', symbolSize: 10, itemStyle: blueHollow });
line(R8, zip(r7Contrast, r8Long), '#1a2cff', { symbol: 'rect', symbolSize: 8, itemStyle: blueHollow });
line(R8, zip(r7Contrast, r8Short), '#1a2cff', { symbol: 'circle', symbolSize: 10, itemStyle: blueHollow });

// E1
e1Resp.forEach((r, k) => line(E1, zip(e1Time, r), k % 2 ? '#333' : '#000'));

// E2
const dot = { symbol: 'circle', symbolSize: 4, itemStyle: { color: '#000' } };
line(E2, e2CurveA, '#000', dot);
line(E2, e2CurveB, '#222', dot);
line(E2, e2CurveC, '#222', dot);
line(E2, e2Dark, '#000', { width: 3, type: [2, 3] });
line(E2, e2CurveD, '#222', dot);

// E3
const e3Styles = [
  ['#000', 'solid'], ['#222', [6, 2, 2, 2]], ['#555', [1.5, 2]], ['#222', 'solid'],
  ['#555', [1.5, 2]], ['#333', [6, 2, 2, 2]], ['#222', [4, 3]], ['#111', [7, 3]]
];
e3Gain.forEach((g, k) => line(E3, e3Freq.map((f, i) => [Math.log10(f / 0.5), lg(g[i])]), e3Styles[k][0], { type: e3Styles[k][1] }));

// E4
line(E4, zip(e4LogI, e4Mean), '#111', { symbol: 'circle', symbolSize: 6, itemStyle: { color: '#111' } });

// E5
e5Resp.forEach((r, k) => line(E5, zip(e5Time, r), k % 2 ? '#555' : '#000'));

// E6
e6Resp.forEach((r, k) => line(E6, zip(e6Time, r), k % 2 ? '#666' : '#111', { type: k % 3 === 1 ? [2, 2] : 'solid' }));

// E7 / E8
const blackHollow = { color: 'rgba(255,255,255,0)', borderColor: '#000', borderWidth: 2 };
line(E7, zip(e7Contrast, e7Long), '#000', { width: 2, symbol: 'rect', symbolSize: 10, itemStyle: blackHollow });
line(E7, zip(e7Contrast, e7Short), '#000', { width: 2, symbol: 'circle', symbolSize: 12, itemStyle: blackHollow });
line(E8, zip(e8Contrast, e8Long), '#000', { width: 2, symbol: 'rect', symbolSize: 10, itemStyle: blackHollow });
line(E8, zip(e8Contrast, e8Short), '#000', { width: 2, symbol: 'circle', symbolSize: 12, itemStyle: blackHollow });

// ---------------- text: headings, panel letters, caption ----------------
const G = option.graphic;
G.push({ type: 'rect', silent: true, z: -1, shape: { x: 4, y: 5, width: 1352, height: 1730 }, style: { fill: 'none', stroke: '#858585', lineWidth: 1.5 } });

function txt(x, y, text, font, align) {
  G.push({ type: 'text', silent: true, x: x, y: y, style: { text: text, font: font, fill: '#000', textAlign: align || 'left', textVerticalAlign: 'middle' } });
}
const HEAD = '25.5px ' + FONT;
txt(331, 34, 'Stimuli', HEAD, 'center');
txt(710, 34, 'Model response', HEAD, 'center');
txt(1075, 34, 'Experimental data', HEAD, 'center');

const LAB = 'bold 22px ' + FONT;
[
  ['S1', 192, 67], ['S2', 193, 241], ['S3', 192, 416], ['S5', 192, 768], ['S6', 188, 942],
  ['R1', 563, 67], ['R2', 563, 241], ['R3', 563, 416], ['R4', 562, 595], ['R5', 562, 768], ['R6', 562, 942], ['R7', 560, 1119], ['R8', 560, 1299],
  ['E1', 933, 67], ['E2', 933, 241], ['E3', 933, 416], ['E4', 930, 595], ['E5', 933, 768], ['E6', 933, 942], ['E7', 933, 1119], ['E8', 933, 1299]
].forEach(l => txt(l[1], l[2], l[0], LAB, 'left'));

const CAP_COL = '#231f20';
const capRich = {
  n: { fontSize: 18, fontFamily: FONT, fill: CAP_COL },
  b: { fontSize: 18.5, fontFamily: FONT, fontWeight: 'bold', fill: CAP_COL },
  i: { fontSize: 18, fontFamily: FONT, fontStyle: 'italic', fill: CAP_COL },
  bi: { fontSize: 18.5, fontFamily: FONT, fontWeight: 'bold', fontStyle: 'italic', fill: CAP_COL },
  g: { fontSize: 18, fontFamily: FONT, fill: '#8c8c8c' }
};
const caption = [
  '{b|FIGURE 4 | Comparison of the adaptive photoreceptor model }{bi|PRelab3}{b| with fly photoreceptor responses. (S1–S6)}{n| Point stimuli used in the model and}',
  '{n|electrophysiological analyses. }{b|(R1–R8)}{n| Corresponding responses of }{i|PRelab3}{n| model and }{b|(E1–E8)}{n| of blowfly photoreceptors (data from }{g|Laughlin and Hardie, 1978;}',
  '{g|Juusola, 1995}{n|). }{b|(S1,R1,E1)}{n| Intensity steps and step responses. }{b|(S2)}{n| Sets of intensity steps and }{b|(R2,E2)}{n| corresponding intensity-response curves of }{i|PRelab3}{n| and}',
  '{n|photoreceptors for different background intensities. }{b|(S3)}{n| Pseudo-random light intensity fluctuations, }{b|(R3,E3)}{n| corresponding frequency dependence of the contrast}',
  '{n|gain, and }{b|(R4,E4)}{n| average responses of }{i|PRelab3}{n| and photoreceptors to pseudo-random fluctuations over time for various background intensity levels. }{b|(S5,R5,E5)}',
  '{n|Impulse stimuli and impulse responses. }{b|(S6,R6,E6)}{n| Long contrast steps under light-adapted conditions, and corresponding model and cell responses. }{b|(R7,E7)}{n| Peak}',
  '{n|responses to long (\u25A1) and short (\u25CB) contrast steps under light-adapted conditions }{b|(R8,E8)}{n| and corresponding time-to-peak for model and photoreceptor responses.}',
  '{n|(See Appendix B for the descriptions of parameters of point stimuli and corresponding response analysis).}'
];
caption.forEach((t, i) => {
  G.push({ type: 'text', silent: true, x: 22, y: 1518 + i * 25.3,
    style: { text: t, rich: capRich, textAlign: 'left', textVerticalAlign: 'middle', fill: CAP_COL } });
});

const chart = echarts.init(document.getElementById('fig'), null, { renderer: 'canvas', width: 1360, height: 1710 });
chart.setOption(option);
</script>
</body>
</html>
